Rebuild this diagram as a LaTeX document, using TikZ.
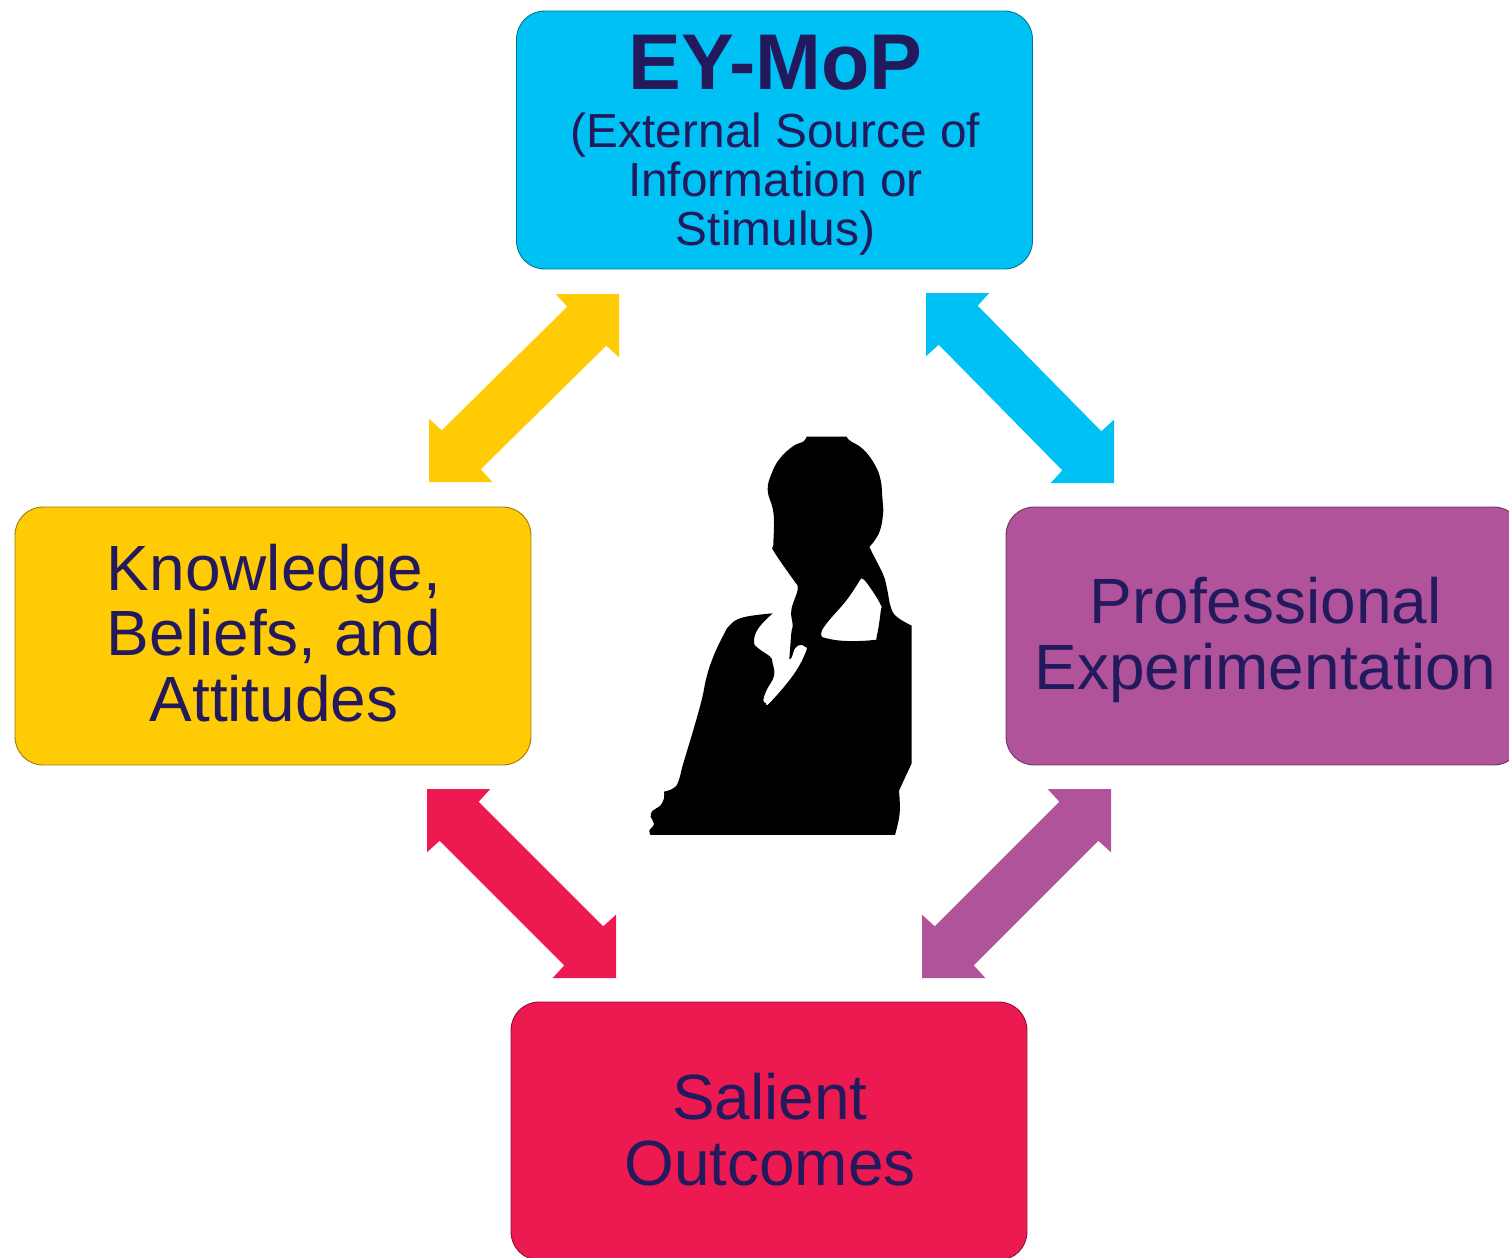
\documentclass[tikz,border=0pt]{standalone}
\usepackage{fontspec}
\setmainfont{Liberation Sans}
\usetikzlibrary{arrows.meta}
\definecolor{cblue}{HTML}{00C1F3}
\definecolor{cyellow}{HTML}{FFCB05}
\definecolor{cpurple}{HTML}{B0539B}
\definecolor{cred}{HTML}{ED1A52}
\definecolor{ctext}{HTML}{231A5E}
\newcommand{\eybig}{\fontsize{45pt}{27.9pt}\selectfont\bfseries}
\newcommand{\eysmall}{\fontsize{27.2pt}{27.9pt}\selectfont\mdseries}
% \blockarrow{colour}{tip A}{tip B}{sx}{sy}: double block arrow with axis-aligned heads; (sx,sy) points from A to B
\newcommand{\blockarrow}[5]{%
  \fill[#1] (#2)
    -- ([shift={({63.3*#4},0)}]#2)
    -- ([shift={({51.7*#4},{12.7*#5})}]#2)
    -- ([shift={({-12.7*#4},{-51.7*#5})}]#3)
    -- ([shift={(0,{-63.3*#5})}]#3)
    -- (#3)
    -- ([shift={({-63.3*#4},0)}]#3)
    -- ([shift={({-51.7*#4},{-12.7*#5})}]#3)
    -- ([shift={({12.7*#4},{51.7*#5})}]#2)
    -- ([shift={(0,{63.3*#5})}]#2)
    -- cycle;}
\tikzset{
  x=0.02cm,y=-0.02cm,
  panel/.style={rounded corners=0.56cm,minimum width=10.32cm,minimum height=5.16cm,
    inner sep=0pt,line width=0.5pt},
  paneltext/.style={inner sep=0pt,align=center,text=ctext,font=\fontsize{36.4pt}{37.4pt}\selectfont},
  eytext/.style={inner sep=0pt,align=center,text=ctext,font=\eysmall},
}
\begin{document}
\begin{tikzpicture}
\clip (0,0) rectangle (1509,1258);
\fill[white] (0,0) rectangle (1509,1258);
% boxes
\node[panel,fill=cblue,draw=cblue!60!black] (ey) at (774.5,140) {};
\node[panel,fill=cyellow,draw=cyellow!60!black] (know) at (273,636) {};
\node[panel,fill=cpurple,draw=cpurple!60!black] (prof) at (1264,636) {};
\node[panel,fill=cred,draw=cred!60!black] (sal) at (769,1131) {};
% texts
\node[eytext] (eyt) at (775.5,145) {\eybig EY-MoP\\[5.1pt]\eysmall (External Source of\\\eysmall Information or\\\eysmall Stimulus)};
\node[paneltext] (knowt) at (274,633) {Knowledge,\\Beliefs, and\\Attitudes};
\node[paneltext] (proft) at (1265.5,640) {Professional\\Experimentation};
\node[paneltext] (salt) at (770,1129.5) {Salient\\Outcomes};
% arrow ends
\coordinate (yA) at (619,294);  \coordinate (yB) at (429,482);
\coordinate (bA) at (926,293);  \coordinate (bB) at (1114,483);
\coordinate (rA) at (427,789);  \coordinate (rB) at (616,978);
\coordinate (pA) at (1111,789); \coordinate (pB) at (922,978);
\blockarrow{cyellow}{yA}{yB}{-1}{1}
\blockarrow{cblue}{bA}{bB}{1}{1}
\blockarrow{cred}{rA}{rB}{1}{1}
\blockarrow{cpurple}{pA}{pB}{-1}{1}
% silhouette
\begin{scope}[shift={(630,420)},x=0.02cm/3,y=-0.02cm/3]
\fill[black,even odd rule]
  (530,50) -- (650,50)
  -- plot[smooth,tension=0.7] coordinates {(650,50) (660,62) (700,88) (735,135) (752,180) (757,230) (760,270) (752,325) (735,360) (718,380)}
  -- plot[smooth,tension=0.7] coordinates {(718,380) (730,405) (760,465) (772,510) (782,560) (800,590) (845,617)}
  -- (845,1030) -- (807,1112)
  -- plot[smooth,tension=0.7] coordinates {(807,1112) (809,1180) (795,1245)}
  -- (62,1245)
  -- plot[smooth,tension=0.7] coordinates {(62,1245) (58,1232) (72,1212) (62,1190) (68,1172) (90,1158) (102,1135) (102,1115)}
  -- plot[smooth,tension=0.7] coordinates {(102,1115) (130,1105) (145,1085) (160,1030) (190,930) (215,840) (230,770) (250,710) (278,650) (300,615) (340,592) (428,580)}
  -- plot[smooth,tension=0.7] coordinates {(428,580) (385,625) (372,665) (385,685) (420,710) (428,730) (432,768) (410,810) (400,840) (408,850) (420,848) (490,765) (528,695) (525,680) (510,675) (495,685) (485,712) (478,718)}
  -- plot[smooth,tension=0.7] coordinates {(478,718) (484,640) (488,615) (484,570) (503,510) (498,490)}
  -- plot[smooth,tension=0.7] coordinates {(498,490) (432,395) (430,375) (432,310) (428,265) (413,210) (425,160) (450,115) (490,78) (520,65) (530,50)}
  -- cycle
  (690,480)
  -- plot[smooth,tension=0.7] coordinates {(690,480) (705,482) (750,550) (752,575) (740,650) (730,660) (650,663) (590,655) (573,643) (590,610) (650,540) (690,480)}
  -- cycle;
\end{scope}
\end{tikzpicture}
\end{document}
